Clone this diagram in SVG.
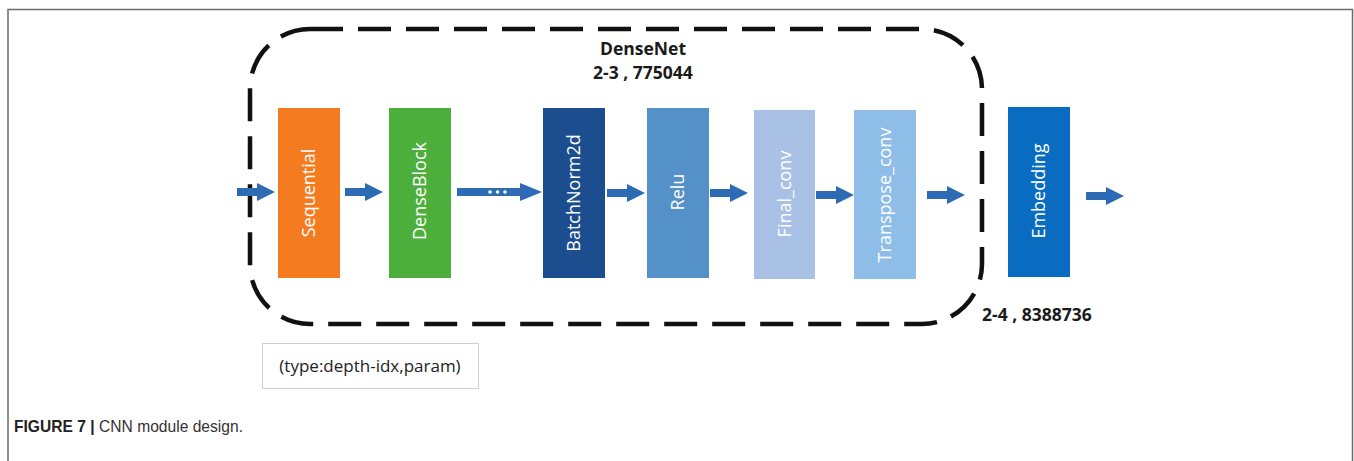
<svg xmlns="http://www.w3.org/2000/svg" width="1354" height="461" viewBox="0 0 1354 461">
  <style>
    .frame { fill: none; stroke: #6b6b6b; stroke-width: 1.5; }
    .group-outline { fill: none; stroke: #111; stroke-width: 4.5; stroke-dasharray: 33 15; stroke-linecap: butt; }
    .blk-label { font-family: "Open Sans", "DejaVu Sans", sans-serif; font-size: 18px; fill: #ffffff; text-anchor: middle; }
    .note { font-family: "Open Sans", "DejaVu Sans", sans-serif; font-size: 17.5px; font-weight: bold; fill: #1a1a1a; text-anchor: middle; }
    .legend-box { fill: #ffffff; stroke: #d0d0d0; stroke-width: 1; }
    .legend { font-family: "Open Sans", "DejaVu Sans", sans-serif; font-size: 17px; fill: #222; text-anchor: middle; }
    .caption { font-family: "Liberation Sans", Arial, sans-serif; font-size: 16.5px; fill: #333; }
    .arrow { fill: #2d6bb5; }
  </style>
  <defs>
    <!-- short block arrow, 38 px long, centred on y=0 -->
    <path id="arr" d="M0,-4 H20 V-9 L38,0 L20,9 V4 H0 Z"/>
  </defs>

  <!-- page frame -->
  <path class="frame" d="M8,461 V9.5 H1352.5 V461"/>

  <!-- DenseNet grouping outline -->
  <g id="densenet-group">
    <rect class="group-outline" x="250" y="29" width="732" height="295" rx="60" ry="60"/>
    <text class="note" x="643" y="55">DenseNet</text>
    <text class="note" x="643" y="79">2-3 , 775044</text>
  </g>

  <!-- connectors -->
  <g id="connectors" class="arrow">
    <use href="#arr" x="237" y="192"/>
    <use href="#arr" x="345" y="192"/>
    <!-- long arrow with ellipsis -->
    <path d="M457,188 H520 V183 L542,192 L520,201 V196 H457 Z"/>
    <circle cx="490" cy="192" r="1.8" fill="#ffffff"/>
    <circle cx="497.5" cy="192" r="1.8" fill="#ffffff"/>
    <circle cx="505" cy="192" r="1.8" fill="#ffffff"/>
    <use href="#arr" x="607" y="193"/>
    <use href="#arr" x="710" y="193"/>
    <use href="#arr" x="816" y="195"/>
    <use href="#arr" x="927" y="195"/>
    <use href="#arr" x="1086" y="196"/>
  </g>

  <!-- layer blocks -->
  <g id="sequential">
    <rect x="278" y="108" width="62" height="170" fill="#f47b20"/>
    <text class="blk-label" transform="translate(309,193) rotate(-90)" dy="6">Sequential</text>
  </g>
  <g id="denseblock">
    <rect x="389" y="108" width="62" height="170" fill="#4caf3c"/>
    <text class="blk-label" transform="translate(420,191) rotate(-90)" dy="6">DenseBlock</text>
  </g>
  <g id="batchnorm2d">
    <rect x="543" y="108" width="62" height="170" fill="#1b4d8f"/>
    <text class="blk-label" transform="translate(574,193) rotate(-90)" dy="6">BatchNorm2d</text>
  </g>
  <g id="relu">
    <rect x="647" y="108" width="62" height="170" fill="#5591c9"/>
    <text class="blk-label" transform="translate(678,192) rotate(-90)" dy="6">Relu</text>
  </g>
  <g id="final-conv">
    <rect x="754" y="110" width="61" height="169" fill="#aac1e6"/>
    <text class="blk-label" transform="translate(784.5,194) rotate(-90)" dy="6" fill="#eef3fb">Final_conv</text>
  </g>
  <g id="transpose-conv">
    <rect x="854" y="110" width="62" height="169" fill="#8ebee8"/>
    <text class="blk-label" transform="translate(885,195) rotate(-90)" dy="6" fill="#eef6fd">Transpose_conv</text>
  </g>
  <g id="embedding">
    <rect x="1008" y="107" width="62" height="170" fill="#0a6cc0"/>
    <text class="blk-label" transform="translate(1039,191) rotate(-90)" dy="6" fill="#a6e6ff">Embedding</text>
  </g>

  <text class="note" x="1037" y="321">2-4 , 8388736</text>

  <!-- legend -->
  <g id="legend">
    <rect class="legend-box" x="262.5" y="343.5" width="216" height="45"/>
    <text class="legend" x="370" y="372">(type:depth-idx,param)</text>
  </g>

  <!-- figure caption -->
  <text class="caption" x="14" y="432" textLength="229" lengthAdjust="spacingAndGlyphs"><tspan font-weight="bold" fill="#222">FIGURE 7 |</tspan> CNN module design.</text>
</svg>
